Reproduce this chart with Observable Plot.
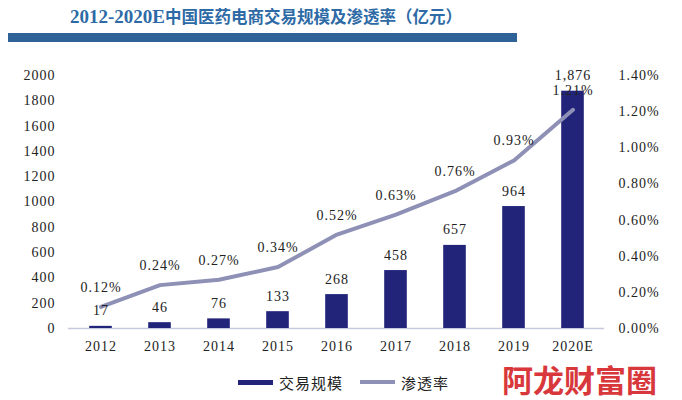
<!DOCTYPE html>
<html>
<head>
<meta charset="utf-8">
<script src="https://cdn.jsdelivr.net/npm/d3@7"></script>
<script src="https://cdn.jsdelivr.net/npm/@observablehq/plot@0.6"></script>
<style>
  html, body { margin: 0; padding: 0; background: #fff; }
  #wrap { position: relative; width: 682px; height: 400px; overflow: hidden; background: #fff; }
  #title { position: absolute; left: 70px; top: 3px; text-align: left;
    font-family: "Liberation Serif", "Noto Sans CJK SC", serif; font-size: 19px; font-weight: 700;
    color: #2d6aa6; line-height: 26px; white-space: nowrap; }
  #title .cjk { font-family: "Noto Sans CJK SC", sans-serif; font-size: 16.5px; font-weight: 700; }
  #titlebar { position: absolute; left: 8px; top: 33px; width: 509px; height: 9px; background: #2f6398; }
  #chart { position: absolute; left: 0; top: 50px; }
  #chart svg text { letter-spacing: 1px; }
  .leg { position: absolute; top: 372px; height: 20px; display: flex; align-items: center;
    font-family: "Noto Sans CJK SC", sans-serif; font-size: 15px; color: #222; letter-spacing: 1px; }
  .sw { display: inline-block; width: 35px; margin-right: 6px; }
  #mark { position: absolute; left: 502px; top: 362px; font-family: "Noto Sans CJK SC", sans-serif;
    font-size: 31px; font-weight: 700; color: #d8383b; line-height: 34px; letter-spacing: 0px; }
</style>
</head>
<body>
<div id="wrap">
  <div id="title">2012-2020E<span class="cjk">中国医药电商交易规模及渗透率（亿元）</span></div>
  <div id="titlebar"></div>
  <div id="chart"></div>
  <div class="leg" style="left:238px"><span class="sw" style="height:5px;background:#22247a"></span>交易规模</div>
  <div class="leg" style="left:360px"><span class="sw" style="height:4px;background:#8e90b6"></span>渗透率</div>
  <div id="mark">阿龙财富圈</div>
</div>
<script>
const years = ["2012","2013","2014","2015","2016","2017","2018","2019","2020E"];
const volume = [17, 46, 76, 133, 268, 458, 657, 964, 1876];
const rate = [0.12, 0.24, 0.27, 0.34, 0.52, 0.63, 0.76, 0.93, 1.21];
const leftTicks = [0, 200, 400, 600, 800, 1000, 1200, 1400, 1600, 1800, 2000];
const rateTicks = [0, 0.2, 0.4, 0.6, 0.8, 1.0, 1.2, 1.4];

const yMax = 2000, rMax = 1.4;
const rateToY = p => p / rMax * yMax;
const data = years.map((y, i) => ({year: y, volume: volume[i], rate: rate[i]}));

const navy = "#22247a";
const lineColor = "#8e90b6";

const chart = Plot.plot({
  width: 682,
  height: 310,
  marginTop: 25,
  marginBottom: 32,
  marginLeft: 68,
  marginRight: 78,
  x: {domain: years, padding: 0},
  y: {domain: [0, yMax]},
  style: {fontFamily: "Liberation Serif, serif", fontSize: "14px", color: "#222", background: "transparent"},
  marks: [
    Plot.axisY({ticks: leftTicks, anchor: "left", tickSize: 0, tickPadding: 13, label: null,
      tickFormat: d => String(d)}),
    Plot.axisY({ticks: rateTicks.map(rateToY), anchor: "right", tickSize: 0, tickPadding: 14, label: null,
      tickFormat: d => (d / yMax * rMax).toFixed(2) + "%"}),
    Plot.axisX({tickSize: 0, tickPadding: 13, label: null}),
    Plot.ruleY([0], {stroke: "#c6cadc", strokeWidth: 1.5}),
    Plot.barY(data, {x: "year", y: "volume", fill: navy, insetLeft: 18.2, insetRight: 18.2}),
    Plot.line(data, {x: "year", y: d => rateToY(d.rate), stroke: lineColor, strokeWidth: 4}),
    Plot.text(data, {x: "year", y: "volume", text: d => d3.format(",")(d.volume),
      lineAnchor: "bottom", dy: -11, fontSize: 14, fill: "#222"}),
    Plot.text(data, {x: "year", y: d => rateToY(d.rate), text: d => d.rate.toFixed(2) + "%",
      lineAnchor: "bottom", dy: -15, fontSize: 14, fill: "#222"})
  ]
});
document.getElementById("chart").appendChild(chart);
</script>
</body>
</html>
